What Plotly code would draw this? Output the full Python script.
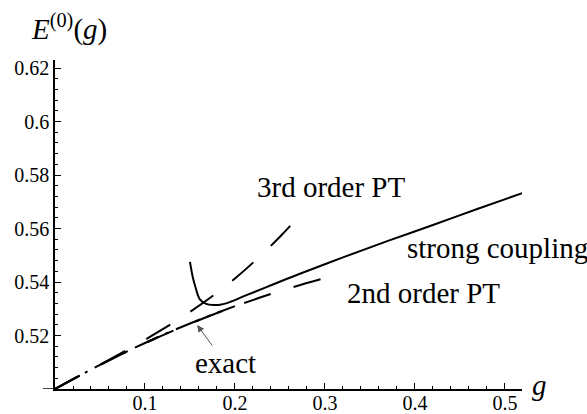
import plotly.graph_objects as go

# values
g_exact = [0.0, 0.025, 0.05, 0.075, 0.1, 0.125, 0.15, 0.175, 0.2]
E_exact = [0.5, 0.5046, 0.5090, 0.5132, 0.5172, 0.5210, 0.5245, 0.5278, 0.5310]

g_pt2 = [0.0, 0.05, 0.1, 0.15, 0.2, 0.25, 0.3, 0.31]
E_pt2 = [0.5, 0.5090, 0.5171, 0.5244, 0.5309, 0.5366, 0.5415, 0.5424]

g_pt3 = [0.0, 0.05, 0.1, 0.15, 0.2, 0.25, 0.272]
E_pt3 = [0.5, 0.5091, 0.5184, 0.5288, 0.5413, 0.5569, 0.5650]

g_strong = [0.150, 0.153, 0.156, 0.161, 0.168, 0.176, 0.185, 0.195,
            0.21, 0.235, 0.27, 0.32, 0.37, 0.42, 0.47, 0.52]
E_strong = [0.5475, 0.5420, 0.5382, 0.5335, 0.5318, 0.5314, 0.5316, 0.5326,
            0.5347, 0.5381, 0.5428, 0.5492, 0.5554, 0.5613, 0.5674, 0.5733]

x_ticks = [0.1, 0.2, 0.3, 0.4, 0.5]
y_ticks = [0.52, 0.54, 0.56, 0.58, 0.6, 0.62]
y_tick_text = ["0.52", "0.54", "0.56", "0.58", "0.6", "0.62"]

serif = "'Liberation Serif', 'DejaVu Serif', serif"

fig = go.Figure()
fig.add_trace(go.Scatter(x=g_exact, y=E_exact, mode="lines", line_shape="spline",
                         line=dict(color="black", width=2, dash="26px,8px,3px,8px")))
fig.add_trace(go.Scatter(x=g_pt2, y=E_pt2, mode="lines", line_shape="spline",
                         line=dict(color="black", width=2, dash="28px,24px")))
fig.add_trace(go.Scatter(x=g_pt3, y=E_pt3, mode="lines", line_shape="spline",
                         line=dict(color="black", width=2, dash="28px,24px")))
fig.add_trace(go.Scatter(x=g_strong, y=E_strong, mode="lines", line_shape="spline",
                         line=dict(color="black", width=2)))

lab = dict(family=serif, size=29, color="black")
annots = [
    dict(x=0.03, y=1.10, xref="paper", yref="paper",
         text="<i>E</i><sup>(0)</sup>(<i>g</i>)", showarrow=False),
    dict(x=1.037, y=0.012, xref="paper", yref="paper", text="<i>g</i>", showarrow=False),
    dict(x=0.3067, y=0.5755, text="3rd order PT", showarrow=False),
    dict(x=0.389, y=0.5527, text="strong coupling", showarrow=False, xanchor="left"),
    dict(x=0.41, y=0.5359, text="2nd order PT", showarrow=False),
    dict(x=0.158, y=0.5239, text="exact", showarrow=True, ax=28, ay=38,
         arrowhead=2, arrowsize=1.4, arrowwidth=1, arrowcolor="#555555"),
]
for a in annots:
    a.setdefault("xref", "x")
    a.setdefault("yref", "y")
    a.setdefault("xanchor", "center")
    a.setdefault("yanchor", "middle")
    a.update(font=lab)
    fig.add_annotation(**a)

# little stub of the g axis left of the E axis
fig.add_shape(type="line", xref="paper", yref="y", x0=-0.026, x1=0, y0=0.5, y1=0.5,
              line=dict(color="black", width=1.5))

fig.update_layout(
    width=587, height=414,
    margin=dict(l=55, r=65, t=60, b=25),
    plot_bgcolor="white", paper_bgcolor="white",
    showlegend=False,
    font=dict(family=serif, size=20, color="black"),
)
fig.update_xaxes(range=[0, 0.519], showgrid=False, zeroline=False,
                 showline=True, linecolor="black", linewidth=1.5,
                 tickvals=x_ticks, ticks="inside", ticklen=6, tickcolor="black",
                 ticklabelstandoff=-5,
                 minor=dict(dtick=0.02, tick0=0, ticks="inside", ticklen=3,
                            tickcolor="black"),
                 automargin=False)
fig.update_yaxes(range=[0.5, 0.623], showgrid=False, zeroline=False,
                 showline=True, linecolor="black", linewidth=1.5,
                 tickvals=y_ticks, ticktext=y_tick_text, ticks="inside", ticklen=6,
                 tickcolor="black",
                 minor=dict(dtick=0.004, tick0=0.5, ticks="inside", ticklen=3,
                            tickcolor="black"),
                 automargin=False)

fig.write_html("out.html", config={"displayModeBar": False},
               post_script="document.body.style.margin='0';document.body.style.overflow='hidden';")
